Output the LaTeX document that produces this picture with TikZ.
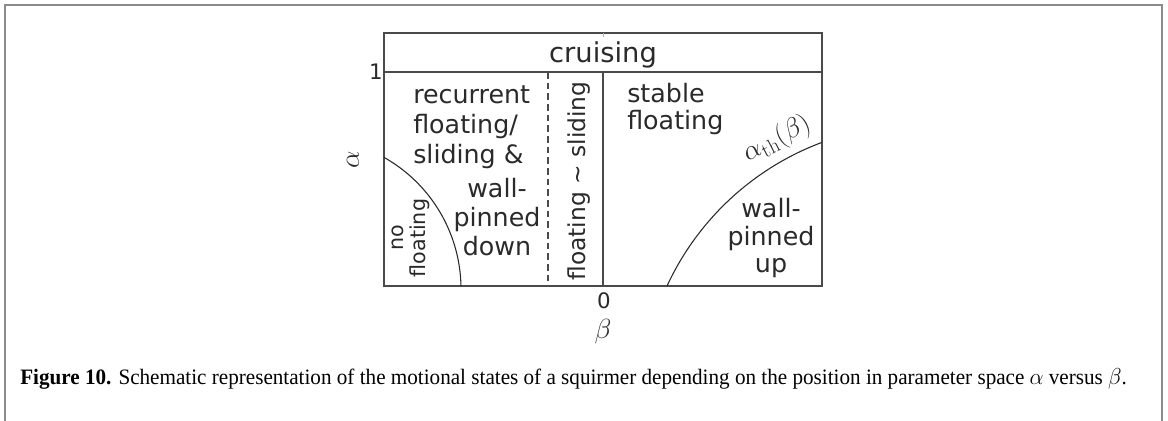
\documentclass[tikz,border=0pt]{standalone}
\usepackage{fontspec}
\usepackage{graphicx}
\newfontfamily\dv{DejaVu Sans}
\newfontfamily\capfont{Liberation Serif}
\definecolor{ink}{HTML}{2A2A2A}
\definecolor{framegray}{HTML}{8C8C8C}
\begin{document}
\begin{tikzpicture}[x=0.75pt,y=-0.75pt,
  frameline/.style={draw=framegray,line width=1.5pt},
  boxline/.style={draw=ink!85,line width=1.1pt},
  curveline/.style={draw=ink,line width=0.8pt},
  dashline/.style={draw=ink!85,line width=0.9pt,dash pattern=on 5pt off 3pt},
  txt/.style={inner sep=0pt,text=ink,font=\dv\fontsize{19}{22.5}\selectfont},
  bigtxt/.style={inner sep=0pt,text=ink,font=\dv\fontsize{20.5}{24}\selectfont},
  midtxt/.style={inner sep=0pt,text=ink,font=\dv\fontsize{17.5}{21}\selectfont},
  smalltxt/.style={inner sep=0pt,text=ink,font=\dv\fontsize{15.5}{17}\selectfont},
  ticktxt/.style={inner sep=0pt,text=ink,font=\dv\fontsize{16}{18}\selectfont},
  mathtxt/.style={inner sep=0pt,text=ink,font=\fontsize{22}{24}\selectfont},
]
\useasboundingbox (0,0) rectangle (1168,421);
\fill[white] (0,0) rectangle (1168,421);
% outer frame (open at bottom)
\draw[frameline] (5,421) -- (5,5) -- (1162,5) -- (1162,421);

% diagram box
\draw[boxline] (384,33) rectangle (822,286);
\draw[boxline] (384,72) -- (822,72);
\draw[boxline] (603,72) -- (603,286);
\draw[dashline] (548,72) -- (548,286);
\draw[draw=gray!60,line width=0.4pt] (603,33) -- (603,37);

% boundary curves
\draw[curveline] plot[domain=1.14:60.66,samples=80] ({310+151*cos(\x)},{289-151*sin(\x)});
\draw[curveline] plot[domain=110.5:155.2,samples=80] ({919.2+277.9*cos(\x)},{402.7-277.9*sin(\x)});

% top band
\node[bigtxt,anchor=base] (cruise) at (603,62) {cruising};

% left region
\node[txt,anchor=base west] (l1) at (413,103) {recurrent};
\node[txt,anchor=base west] (l2) at (413,133) {floating/};
\node[txt,anchor=base west] (l3) at (413,163) {sliding \&};
\node[txt,anchor=base] (l4) at (497,197) {wall-};
\node[txt,anchor=base] (l5) at (497,226) {pinned};
\node[txt,anchor=base] (l6) at (497,255) {down};

\node[smalltxt,rotate=90,align=center] (nofl) at (411,238) {no\\floating};
\node[midtxt,rotate=90] (flsl) at (579,181) {floating \textasciitilde\ sliding};

% right region
\node[txt,anchor=base west] (r1) at (627,102) {stable};
\node[txt,anchor=base west] (r2) at (627,129) {floating};
\node[txt,anchor=base] (r3) at (771,217) {wall-};
\node[txt,anchor=base] (r4) at (771,245) {pinned};
\node[txt,anchor=base] (r5) at (771,272) {up};

\node[inner sep=0pt,text=ink,font=\fontsize{22.5}{24}\selectfont,rotate=27] (ath) at (777,139) {$\alpha_{\mathrm{th}}(\beta)$};

% axis labels
\node[ticktxt,anchor=east] (one) at (383,72) {1};
\node[ticktxt] (zero) at (604,301) {0};
\node[mathtxt] (beta) at (603,332) {$\beta$};
\node[mathtxt,rotate=90] (alpha) at (353,160) {$\alpha$};

% caption
\node[inner sep=0pt,anchor=base west,text=black] (cap) at (20,384)
  {\resizebox{830pt}{\height}{\capfont\fontsize{16.5}{19}\selectfont\textbf{Figure 10.} Schematic representation of the motional states of a squirmer depending on the position in parameter space $\alpha$ versus $\beta$.}};
\end{tikzpicture}
\end{document}
